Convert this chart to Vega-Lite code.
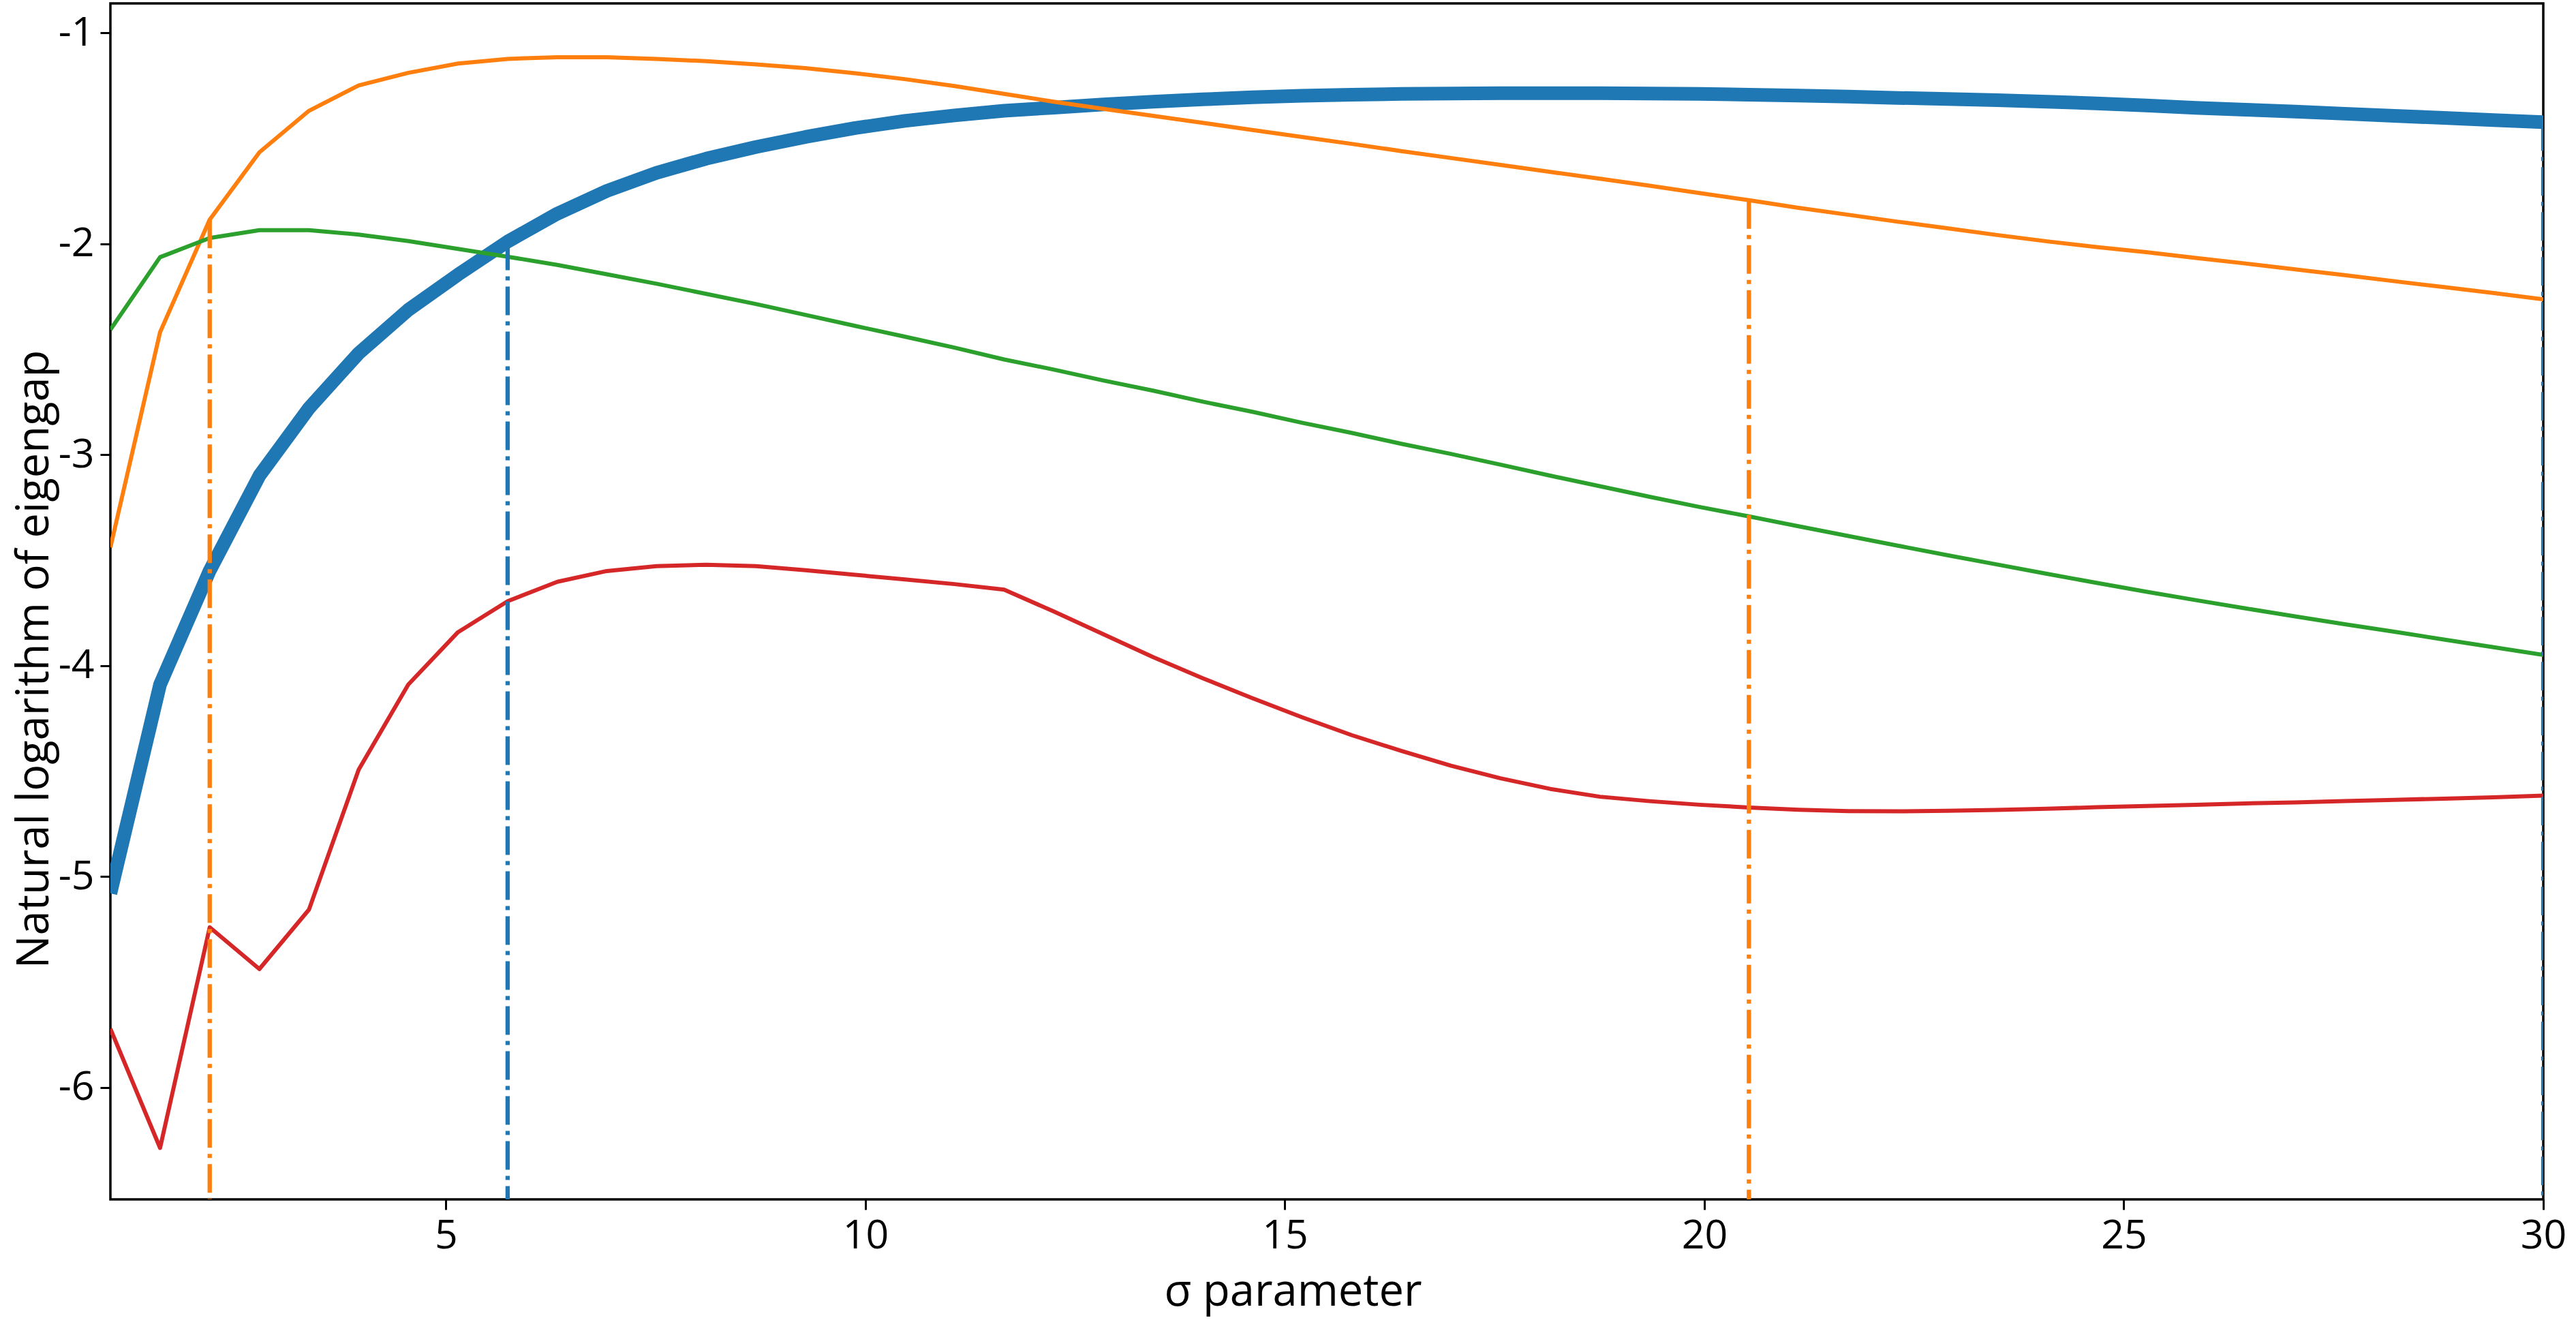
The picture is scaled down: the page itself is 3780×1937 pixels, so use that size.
{
  "$schema": "https://vega.github.io/schema/vega-lite/v6.json",
  "width": 3570,
  "height": 1755,
  "autosize": {"type": "none"},
  "padding": {"left": 162, "top": 5, "right": 48, "bottom": 177},
  "background": "white",
  "config": {
    "view": {"stroke": "black", "strokeWidth": 3.5},
    "font": "Open Sans",
    "axis": {
      "domain": false,
      "grid": false,
      "tickColor": "black",
      "tickWidth": 3,
      "tickSize": 15,
      "labelColor": "black",
      "labelFont": "Open Sans",
      "labelFontSize": 59,
      "labelPadding": 9,
      "titleFont": "Open Sans",
      "titleFontSize": 65,
      "titleFontWeight": "normal",
      "titleColor": "black",
      "labelFlush": false
    }
  },
  "datasets": {
    "curves": [
      {"sigma": 1, "curve": "gap 1", "value": -5.08},
      {"sigma": 1.592, "curve": "gap 1", "value": -4.09},
      {"sigma": 2.184, "curve": "gap 1", "value": -3.55},
      {"sigma": 2.776, "curve": "gap 1", "value": -3.1},
      {"sigma": 3.367, "curve": "gap 1", "value": -2.78},
      {"sigma": 3.959, "curve": "gap 1", "value": -2.52},
      {"sigma": 4.551, "curve": "gap 1", "value": -2.314},
      {"sigma": 5.143, "curve": "gap 1", "value": -2.147},
      {"sigma": 5.735, "curve": "gap 1", "value": -1.99},
      {"sigma": 6.327, "curve": "gap 1", "value": -1.858},
      {"sigma": 6.918, "curve": "gap 1", "value": -1.75},
      {"sigma": 7.51, "curve": "gap 1", "value": -1.664},
      {"sigma": 8.102, "curve": "gap 1", "value": -1.597},
      {"sigma": 8.694, "curve": "gap 1", "value": -1.542},
      {"sigma": 9.286, "curve": "gap 1", "value": -1.494},
      {"sigma": 9.878, "curve": "gap 1", "value": -1.452},
      {"sigma": 10.469, "curve": "gap 1", "value": -1.418},
      {"sigma": 11.061, "curve": "gap 1", "value": -1.392},
      {"sigma": 11.653, "curve": "gap 1", "value": -1.37},
      {"sigma": 12.245, "curve": "gap 1", "value": -1.355},
      {"sigma": 12.837, "curve": "gap 1", "value": -1.34},
      {"sigma": 13.429, "curve": "gap 1", "value": -1.327},
      {"sigma": 14.02, "curve": "gap 1", "value": -1.316},
      {"sigma": 14.612, "curve": "gap 1", "value": -1.306},
      {"sigma": 15.204, "curve": "gap 1", "value": -1.299},
      {"sigma": 15.796, "curve": "gap 1", "value": -1.294},
      {"sigma": 16.388, "curve": "gap 1", "value": -1.29},
      {"sigma": 16.98, "curve": "gap 1", "value": -1.288},
      {"sigma": 17.571, "curve": "gap 1", "value": -1.287},
      {"sigma": 18.163, "curve": "gap 1", "value": -1.287},
      {"sigma": 18.755, "curve": "gap 1", "value": -1.287},
      {"sigma": 19.347, "curve": "gap 1", "value": -1.288},
      {"sigma": 19.939, "curve": "gap 1", "value": -1.29},
      {"sigma": 20.531, "curve": "gap 1", "value": -1.294},
      {"sigma": 21.122, "curve": "gap 1", "value": -1.298},
      {"sigma": 21.714, "curve": "gap 1", "value": -1.303},
      {"sigma": 22.306, "curve": "gap 1", "value": -1.309},
      {"sigma": 22.898, "curve": "gap 1", "value": -1.314},
      {"sigma": 23.49, "curve": "gap 1", "value": -1.32},
      {"sigma": 24.082, "curve": "gap 1", "value": -1.327},
      {"sigma": 24.673, "curve": "gap 1", "value": -1.335},
      {"sigma": 25.265, "curve": "gap 1", "value": -1.345},
      {"sigma": 25.857, "curve": "gap 1", "value": -1.356},
      {"sigma": 26.449, "curve": "gap 1", "value": -1.365},
      {"sigma": 27.041, "curve": "gap 1", "value": -1.374},
      {"sigma": 27.633, "curve": "gap 1", "value": -1.384},
      {"sigma": 28.224, "curve": "gap 1", "value": -1.394},
      {"sigma": 28.816, "curve": "gap 1", "value": -1.404},
      {"sigma": 29.408, "curve": "gap 1", "value": -1.414},
      {"sigma": 30, "curve": "gap 1", "value": -1.424},

      {"sigma": 1, "curve": "gap 2", "value": -3.44},
      {"sigma": 1.592, "curve": "gap 2", "value": -2.42},
      {"sigma": 2.184, "curve": "gap 2", "value": -1.886},
      {"sigma": 2.776, "curve": "gap 2", "value": -1.567},
      {"sigma": 3.367, "curve": "gap 2", "value": -1.37},
      {"sigma": 3.959, "curve": "gap 2", "value": -1.25},
      {"sigma": 4.551, "curve": "gap 2", "value": -1.19},
      {"sigma": 5.143, "curve": "gap 2", "value": -1.146},
      {"sigma": 5.735, "curve": "gap 2", "value": -1.124},
      {"sigma": 6.327, "curve": "gap 2", "value": -1.116},
      {"sigma": 6.918, "curve": "gap 2", "value": -1.116},
      {"sigma": 7.51, "curve": "gap 2", "value": -1.124},
      {"sigma": 8.102, "curve": "gap 2", "value": -1.135},
      {"sigma": 8.694, "curve": "gap 2", "value": -1.15},
      {"sigma": 9.286, "curve": "gap 2", "value": -1.168},
      {"sigma": 9.878, "curve": "gap 2", "value": -1.192},
      {"sigma": 10.469, "curve": "gap 2", "value": -1.22},
      {"sigma": 11.061, "curve": "gap 2", "value": -1.253},
      {"sigma": 11.653, "curve": "gap 2", "value": -1.29},
      {"sigma": 12.245, "curve": "gap 2", "value": -1.327},
      {"sigma": 12.837, "curve": "gap 2", "value": -1.361},
      {"sigma": 13.429, "curve": "gap 2", "value": -1.394},
      {"sigma": 14.02, "curve": "gap 2", "value": -1.427},
      {"sigma": 14.612, "curve": "gap 2", "value": -1.461},
      {"sigma": 15.204, "curve": "gap 2", "value": -1.494},
      {"sigma": 15.796, "curve": "gap 2", "value": -1.527},
      {"sigma": 16.388, "curve": "gap 2", "value": -1.561},
      {"sigma": 16.98, "curve": "gap 2", "value": -1.594},
      {"sigma": 17.571, "curve": "gap 2", "value": -1.627},
      {"sigma": 18.163, "curve": "gap 2", "value": -1.66},
      {"sigma": 18.755, "curve": "gap 2", "value": -1.692},
      {"sigma": 19.347, "curve": "gap 2", "value": -1.725},
      {"sigma": 19.939, "curve": "gap 2", "value": -1.76},
      {"sigma": 20.531, "curve": "gap 2", "value": -1.794},
      {"sigma": 21.122, "curve": "gap 2", "value": -1.83},
      {"sigma": 21.714, "curve": "gap 2", "value": -1.863},
      {"sigma": 22.306, "curve": "gap 2", "value": -1.896},
      {"sigma": 22.898, "curve": "gap 2", "value": -1.927},
      {"sigma": 23.49, "curve": "gap 2", "value": -1.959},
      {"sigma": 24.082, "curve": "gap 2", "value": -1.989},
      {"sigma": 24.673, "curve": "gap 2", "value": -2.016},
      {"sigma": 25.265, "curve": "gap 2", "value": -2.04},
      {"sigma": 25.857, "curve": "gap 2", "value": -2.068},
      {"sigma": 26.449, "curve": "gap 2", "value": -2.094},
      {"sigma": 27.041, "curve": "gap 2", "value": -2.122},
      {"sigma": 27.633, "curve": "gap 2", "value": -2.149},
      {"sigma": 28.224, "curve": "gap 2", "value": -2.178},
      {"sigma": 28.816, "curve": "gap 2", "value": -2.206},
      {"sigma": 29.408, "curve": "gap 2", "value": -2.234},
      {"sigma": 30, "curve": "gap 2", "value": -2.264},

      {"sigma": 1, "curve": "gap 3", "value": -2.408},
      {"sigma": 1.592, "curve": "gap 3", "value": -2.064},
      {"sigma": 2.184, "curve": "gap 3", "value": -1.973},
      {"sigma": 2.776, "curve": "gap 3", "value": -1.936},
      {"sigma": 3.367, "curve": "gap 3", "value": -1.936},
      {"sigma": 3.959, "curve": "gap 3", "value": -1.957},
      {"sigma": 4.551, "curve": "gap 3", "value": -1.988},
      {"sigma": 5.143, "curve": "gap 3", "value": -2.025},
      {"sigma": 5.735, "curve": "gap 3", "value": -2.062},
      {"sigma": 6.327, "curve": "gap 3", "value": -2.101},
      {"sigma": 6.918, "curve": "gap 3", "value": -2.145},
      {"sigma": 7.51, "curve": "gap 3", "value": -2.19},
      {"sigma": 8.102, "curve": "gap 3", "value": -2.238},
      {"sigma": 8.694, "curve": "gap 3", "value": -2.286},
      {"sigma": 9.286, "curve": "gap 3", "value": -2.338},
      {"sigma": 9.878, "curve": "gap 3", "value": -2.39},
      {"sigma": 10.469, "curve": "gap 3", "value": -2.441},
      {"sigma": 11.061, "curve": "gap 3", "value": -2.493},
      {"sigma": 11.653, "curve": "gap 3", "value": -2.549},
      {"sigma": 12.245, "curve": "gap 3", "value": -2.597},
      {"sigma": 12.837, "curve": "gap 3", "value": -2.649},
      {"sigma": 13.429, "curve": "gap 3", "value": -2.697},
      {"sigma": 14.02, "curve": "gap 3", "value": -2.749},
      {"sigma": 14.612, "curve": "gap 3", "value": -2.797},
      {"sigma": 15.204, "curve": "gap 3", "value": -2.849},
      {"sigma": 15.796, "curve": "gap 3", "value": -2.897},
      {"sigma": 16.388, "curve": "gap 3", "value": -2.949},
      {"sigma": 16.98, "curve": "gap 3", "value": -2.997},
      {"sigma": 17.571, "curve": "gap 3", "value": -3.048},
      {"sigma": 18.163, "curve": "gap 3", "value": -3.1},
      {"sigma": 18.755, "curve": "gap 3", "value": -3.15},
      {"sigma": 19.347, "curve": "gap 3", "value": -3.2},
      {"sigma": 19.939, "curve": "gap 3", "value": -3.248},
      {"sigma": 20.531, "curve": "gap 3", "value": -3.293},
      {"sigma": 21.122, "curve": "gap 3", "value": -3.34},
      {"sigma": 21.714, "curve": "gap 3", "value": -3.386},
      {"sigma": 22.306, "curve": "gap 3", "value": -3.432},
      {"sigma": 22.898, "curve": "gap 3", "value": -3.477},
      {"sigma": 23.49, "curve": "gap 3", "value": -3.521},
      {"sigma": 24.082, "curve": "gap 3", "value": -3.565},
      {"sigma": 24.673, "curve": "gap 3", "value": -3.608},
      {"sigma": 25.265, "curve": "gap 3", "value": -3.65},
      {"sigma": 25.857, "curve": "gap 3", "value": -3.69},
      {"sigma": 26.449, "curve": "gap 3", "value": -3.729},
      {"sigma": 27.041, "curve": "gap 3", "value": -3.767},
      {"sigma": 27.633, "curve": "gap 3", "value": -3.804},
      {"sigma": 28.224, "curve": "gap 3", "value": -3.84},
      {"sigma": 28.816, "curve": "gap 3", "value": -3.877},
      {"sigma": 29.408, "curve": "gap 3", "value": -3.913},
      {"sigma": 30, "curve": "gap 3", "value": -3.95},

      {"sigma": 1, "curve": "gap 4", "value": -5.722},
      {"sigma": 1.592, "curve": "gap 4", "value": -6.287},
      {"sigma": 2.184, "curve": "gap 4", "value": -5.241},
      {"sigma": 2.776, "curve": "gap 4", "value": -5.439},
      {"sigma": 3.367, "curve": "gap 4", "value": -5.157},
      {"sigma": 3.959, "curve": "gap 4", "value": -4.494},
      {"sigma": 4.551, "curve": "gap 4", "value": -4.09},
      {"sigma": 5.143, "curve": "gap 4", "value": -3.842},
      {"sigma": 5.735, "curve": "gap 4", "value": -3.695},
      {"sigma": 6.327, "curve": "gap 4", "value": -3.603},
      {"sigma": 6.918, "curve": "gap 4", "value": -3.552},
      {"sigma": 7.51, "curve": "gap 4", "value": -3.529},
      {"sigma": 8.102, "curve": "gap 4", "value": -3.522},
      {"sigma": 8.694, "curve": "gap 4", "value": -3.529},
      {"sigma": 9.286, "curve": "gap 4", "value": -3.548},
      {"sigma": 9.878, "curve": "gap 4", "value": -3.57},
      {"sigma": 10.469, "curve": "gap 4", "value": -3.592},
      {"sigma": 11.061, "curve": "gap 4", "value": -3.614},
      {"sigma": 11.653, "curve": "gap 4", "value": -3.64},
      {"sigma": 12.245, "curve": "gap 4", "value": -3.744},
      {"sigma": 12.837, "curve": "gap 4", "value": -3.852},
      {"sigma": 13.429, "curve": "gap 4", "value": -3.96},
      {"sigma": 14.02, "curve": "gap 4", "value": -4.06},
      {"sigma": 14.612, "curve": "gap 4", "value": -4.155},
      {"sigma": 15.204, "curve": "gap 4", "value": -4.245},
      {"sigma": 15.796, "curve": "gap 4", "value": -4.33},
      {"sigma": 16.388, "curve": "gap 4", "value": -4.405},
      {"sigma": 16.98, "curve": "gap 4", "value": -4.475},
      {"sigma": 17.571, "curve": "gap 4", "value": -4.535},
      {"sigma": 18.163, "curve": "gap 4", "value": -4.585},
      {"sigma": 18.755, "curve": "gap 4", "value": -4.622},
      {"sigma": 19.347, "curve": "gap 4", "value": -4.643},
      {"sigma": 19.939, "curve": "gap 4", "value": -4.66},
      {"sigma": 20.531, "curve": "gap 4", "value": -4.673},
      {"sigma": 21.122, "curve": "gap 4", "value": -4.684},
      {"sigma": 21.714, "curve": "gap 4", "value": -4.69},
      {"sigma": 22.306, "curve": "gap 4", "value": -4.691},
      {"sigma": 22.898, "curve": "gap 4", "value": -4.689},
      {"sigma": 23.49, "curve": "gap 4", "value": -4.685},
      {"sigma": 24.082, "curve": "gap 4", "value": -4.679},
      {"sigma": 24.673, "curve": "gap 4", "value": -4.672},
      {"sigma": 25.265, "curve": "gap 4", "value": -4.666},
      {"sigma": 25.857, "curve": "gap 4", "value": -4.66},
      {"sigma": 26.449, "curve": "gap 4", "value": -4.654},
      {"sigma": 27.041, "curve": "gap 4", "value": -4.649},
      {"sigma": 27.633, "curve": "gap 4", "value": -4.643},
      {"sigma": 28.224, "curve": "gap 4", "value": -4.637},
      {"sigma": 28.816, "curve": "gap 4", "value": -4.631},
      {"sigma": 29.408, "curve": "gap 4", "value": -4.625},
      {"sigma": 30, "curve": "gap 4", "value": -4.617}
    ],
    "cuts": [
      {"sigma": 2.184, "curve": "gap 2", "value": -1.886},
      {"sigma": 5.735, "curve": "gap 1", "value": -1.99},
      {"sigma": 20.531, "curve": "gap 2", "value": -1.794},
      {"sigma": 30, "curve": "gap 1", "value": -1.424}
    ]
  },
  "encoding": {
    "x": {
      "field": "sigma",
      "type": "quantitative",
      "scale": {"domain": [1, 30], "nice": false, "zero": false},
      "axis": {"values": [5, 10, 15, 20, 25, 30], "title": "σ parameter", "titleX": 1735, "titleY": 104}
    },
    "y": {
      "field": "value",
      "type": "quantitative",
      "scale": {"domain": [-6.531, -0.861], "nice": false, "zero": false},
      "axis": {"values": [-1, -2, -3, -4, -5, -6], "labelExpr": "'' + datum.value", "title": "Natural logarithm of eigengap", "titleX": -78, "titleY": 962}
    },
    "color": {
      "field": "curve",
      "type": "nominal",
      "scale": {"domain": ["gap 1", "gap 2", "gap 3", "gap 4"], "range": ["#1f77b4", "#ff7f0e", "#2ca02c", "#d62728"]},
      "legend": null
    }
  },
  "layer": [
    {
      "data": {"name": "curves"},
      "transform": [{"filter": "datum.curve === 'gap 1'"}],
      "mark": {"type": "line", "strokeWidth": 20, "strokeJoin": "round", "clip": true}
    },
    {
      "data": {"name": "curves"},
      "transform": [{"filter": "datum.curve !== 'gap 1'"}],
      "mark": {"type": "line", "strokeWidth": 6, "strokeJoin": "round", "clip": true}
    },
    {
      "data": {"name": "cuts"},
      "mark": {"type": "rule", "strokeWidth": 6.3, "strokeDash": [42, 9, 6, 9], "clip": true},
      "encoding": {
        "y2": {"datum": -6.531}
      }
    }
  ]
}
